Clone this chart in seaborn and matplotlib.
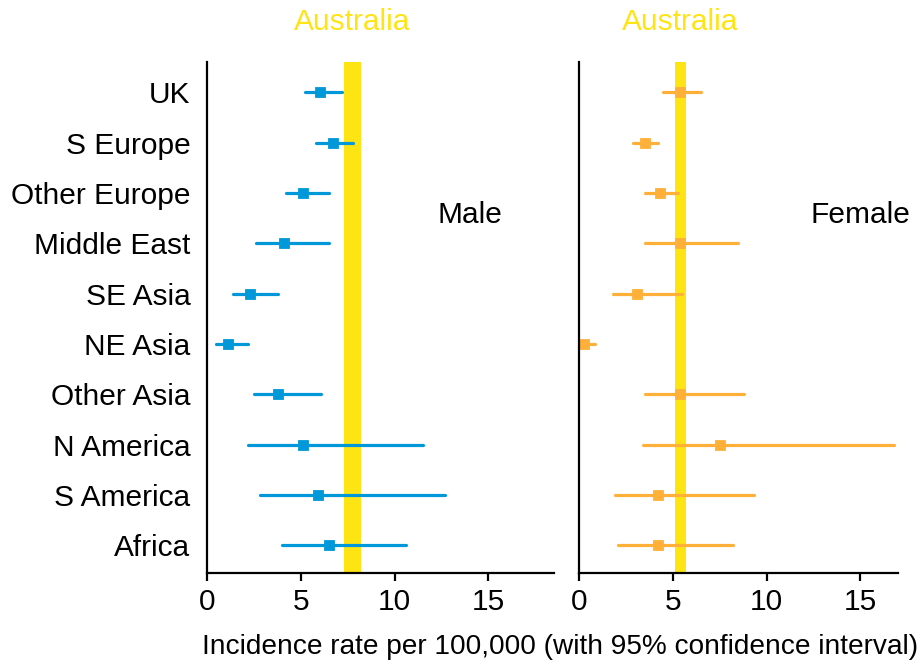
import numpy as np
import pandas as pd
import seaborn as sns
from matplotlib import pyplot as plt
from matplotlib import transforms

regions = ['UK', 'S Europe', 'Other Europe', 'Middle East', 'SE Asia',
           'NE Asia', 'Other Asia', 'N America', 'S America', 'Africa']

# rate per 100,000 with 95% CI
male_rate = [6.0, 6.7, 5.1, 4.1, 2.3, 1.1, 3.8, 5.1, 5.9, 6.5]
male_low = [5.2, 5.8, 4.2, 2.6, 1.4, 0.5, 2.5, 2.2, 2.8, 4.0]
male_high = [7.2, 7.8, 6.5, 6.5, 3.8, 2.2, 6.1, 11.5, 12.7, 10.6]

female_rate = [5.4, 3.5, 4.3, 5.4, 3.1, 0.25, 5.4, 7.5, 4.2, 4.2]
female_low = [4.5, 2.9, 3.5, 3.5, 1.8, 0.0, 3.5, 3.4, 1.9, 2.1]
female_high = [6.5, 4.2, 5.3, 8.5, 5.5, 0.85, 8.8, 16.8, 9.3, 8.2]

# Australian rate (CI band)
aus_male = (7.3, 8.2)
aus_female = (5.12, 5.68)

blue = '#0098d8'
orange = '#ffb038'
yellow = '#ffe414'

sns.set_style('ticks')
plt.rcParams['font.family'] = ['Liberation Sans', 'DejaVu Sans']
plt.rcParams['text.color'] = 'black'
plt.rcParams['xtick.color'] = 'black'
plt.rcParams['ytick.color'] = 'black'
plt.rcParams['xtick.labelcolor'] = 'black'
plt.rcParams['ytick.labelcolor'] = 'black'


def long_table(rate, low, high):
    rows = []
    for r, e, lo, hi in zip(regions, rate, low, high):
        for v in (lo, e, hi):
            rows.append({'region': r, 'rate': v})
    return pd.DataFrame(rows)


fig = plt.figure(figsize=(9.23, 6.64), dpi=100)
ax1 = fig.add_axes([0.2243, 0.137, 0.3759, 0.7696])
ax2 = fig.add_axes([0.6273, 0.137, 0.3456, 0.7696])

panels = [
    (ax1, long_table(male_rate, male_low, male_high), blue, aus_male, 18.5, 'Male', 14.0),
    (ax2, long_table(female_rate, female_low, female_high), orange, aus_female, 17.0, 'Female', 15.0),
]

fs = 21.5

for ax, df, col, band, xmax, label, lx in panels:
    ax.axvspan(band[0], band[1], color=yellow, lw=0, zorder=0)
    # median of (low, est, high) = est, full range = CI
    sns.pointplot(data=df, x='rate', y='region', order=regions, ax=ax,
                  estimator='median', errorbar=('pi', 100), color=col,
                  markers='s', markersize=5.5, linestyle='none',
                  err_kws={'linewidth': 2.3})
    ax.set_xlim(0, xmax)
    ax.set_ylim(9.55, -0.6)
    ax.set_xticks([0, 5, 10, 15])
    ax.set_xlabel('')
    ax.set_ylabel('')
    sns.despine(ax=ax)
    for s in ('left', 'bottom'):
        ax.spines[s].set_linewidth(1.6)
        ax.spines[s].set_color('black')
    ax.tick_params(axis='x', length=6, width=1.6, labelsize=fs, pad=5, color='black')
    ax.tick_params(axis='y', length=0, labelsize=fs, pad=12)
    trans = transforms.blended_transform_factory(ax.transData, ax.transAxes)
    ax.text(sum(band) / 2, 1.078, 'Australia', transform=trans, color=yellow,
            fontsize=fs, ha='center', va='center')
    ax.text(lx, 0.70, label, transform=trans, fontsize=fs, ha='center', va='center')

ax2.set_yticklabels([])

fig.text(560 / 923, 1 - 647 / 664,
         'Incidence rate per 100,000 (with 95% confidence interval)',
         fontsize=20.2, ha='center', va='center')

fig.savefig('out.png', dpi=100)
